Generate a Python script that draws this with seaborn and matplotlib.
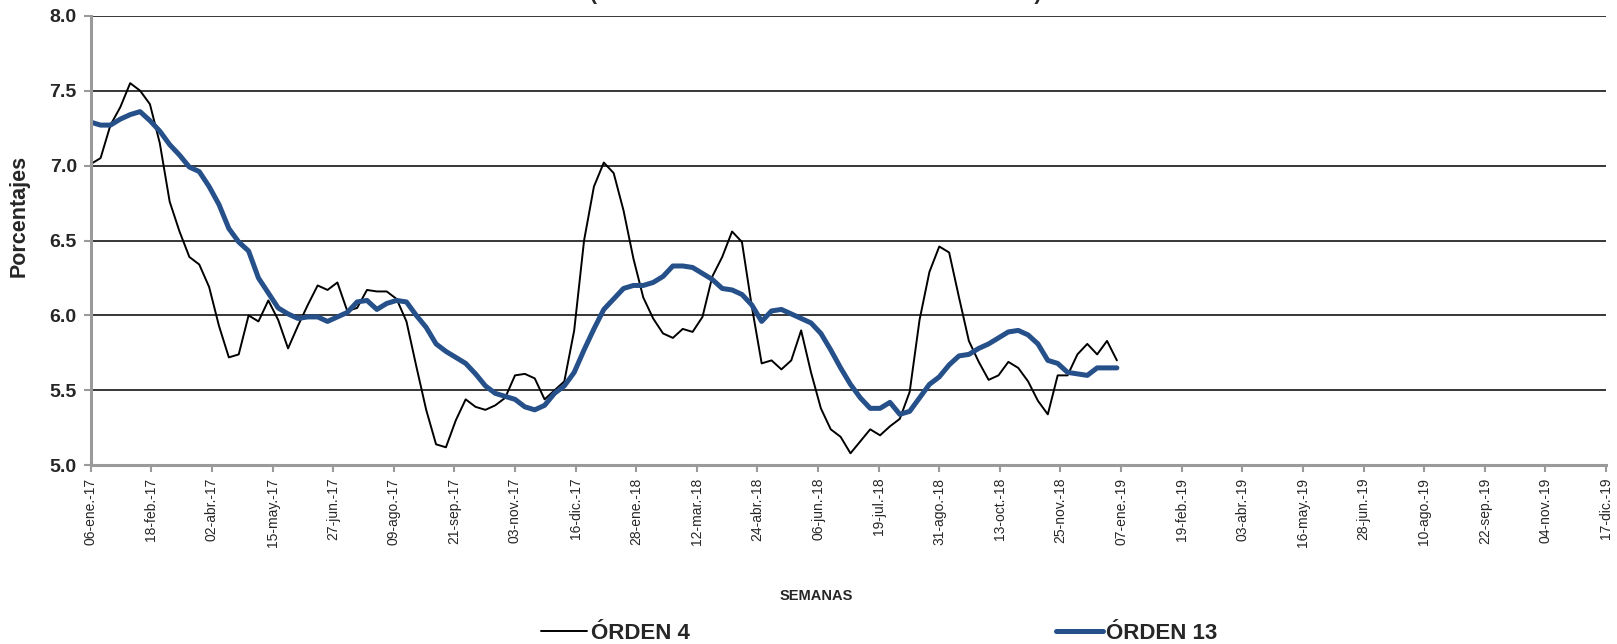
import numpy as np
import pandas as pd
import matplotlib
matplotlib.use("Agg")
import matplotlib.pyplot as plt
import seaborn as sns

# ---------------- data ----------------
start_date = "2017-01-06"
n_weeks = 105
orden4 = [7.01, 7.05, 7.27, 7.39, 7.55, 7.50, 7.41, 7.15, 6.76, 6.56,
          6.39, 6.34, 6.19, 5.93, 5.72, 5.74, 6.00, 5.96, 6.10, 5.97,
          5.78, 5.93, 6.07, 6.20, 6.17, 6.22, 6.03, 6.05, 6.17, 6.16,
          6.16, 6.11, 5.96, 5.66, 5.37, 5.14, 5.12, 5.30, 5.44, 5.39,
          5.37, 5.40, 5.45, 5.60, 5.61, 5.58, 5.44, 5.50, 5.56, 5.90,
          6.50, 6.86, 7.02, 6.95, 6.70, 6.38, 6.12, 5.98, 5.88, 5.85,
          5.91, 5.89, 5.99, 6.26, 6.39, 6.56, 6.49, 6.06, 5.68, 5.70,
          5.64, 5.70, 5.90, 5.62, 5.38, 5.24, 5.19, 5.08, 5.16, 5.24,
          5.20, 5.26, 5.31, 5.49, 5.97, 6.29, 6.46, 6.42, 6.12, 5.83,
          5.69, 5.57, 5.60, 5.69, 5.65, 5.56, 5.43, 5.34, 5.60, 5.60,
          5.74, 5.81, 5.74, 5.83, 5.70]
orden13 = [7.29, 7.27, 7.27, 7.31, 7.34, 7.36, 7.30, 7.23, 7.14, 7.07,
           6.99, 6.96, 6.86, 6.74, 6.58, 6.49, 6.43, 6.25, 6.15, 6.05,
           6.01, 5.98, 5.99, 5.99, 5.96, 5.99, 6.02, 6.09, 6.10, 6.04,
           6.08, 6.10, 6.09, 6.00, 5.92, 5.81, 5.76, 5.72, 5.68, 5.61,
           5.53, 5.48, 5.46, 5.44, 5.39, 5.37, 5.40, 5.48, 5.53, 5.62,
           5.77, 5.91, 6.04, 6.11, 6.18, 6.20, 6.20, 6.22, 6.26, 6.33,
           6.33, 6.32, 6.28, 6.24, 6.18, 6.17, 6.14, 6.07, 5.96, 6.03,
           6.04, 6.01, 5.98, 5.95, 5.88, 5.77, 5.65, 5.54, 5.45, 5.38,
           5.38, 5.42, 5.34, 5.36, 5.45, 5.54, 5.59, 5.67, 5.73, 5.74,
           5.78, 5.81, 5.85, 5.89, 5.90, 5.87, 5.81, 5.70, 5.68, 5.62,
           5.61, 5.60, 5.65, 5.65, 5.65]

tick_dates = ["2017-01-06", "2017-02-18", "2017-04-02", "2017-05-15", "2017-06-27",
              "2017-08-09", "2017-09-21", "2017-11-03", "2017-12-16", "2018-01-28",
              "2018-03-12", "2018-04-24", "2018-06-06", "2018-07-19", "2018-08-31",
              "2018-10-13", "2018-11-25", "2019-01-07", "2019-02-19", "2019-04-03",
              "2019-05-16", "2019-06-28", "2019-08-10", "2019-09-22", "2019-11-04",
              "2019-12-17"]
tick_labels = ["06-ene.-17", "18-feb.-17", "02-abr.-17", "15-may.-17", "27-jun.-17",
               "09-ago.-17", "21-sep.-17", "03-nov.-17", "16-dic.-17", "28-ene.-18",
               "12-mar.-18", "24-abr.-18", "06-jun.-18", "19-jul.-18", "31-ago.-18",
               "13-oct.-18", "25-nov.-18", "07-ene.-19", "19-feb.-19", "03-abr.-19",
               "16-may.-19", "28-jun.-19", "10-ago.-19", "22-sep.-19", "04-nov.-19",
               "17-dic.-19"]
y_ticks = [5.0, 5.5, 6.0, 6.5, 7.0, 7.5, 8.0]

series_names = ["ÓRDEN 4", "ÓRDEN 13"]
title_text = "(PROMEDIOS MÓVILES DE 4 Y 13 SEMANAS)"

# ---------------- figure ----------------
sns.set_style("white")
plt.rcParams["font.family"] = ["Liberation Sans", "DejaVu Sans"]

fig = plt.figure(figsize=(16.17, 6.44), dpi=100)
ax = fig.add_axes([0.0561, 0.2775, 0.9932 - 0.0561, 0.9756 - 0.2775])

dates = pd.date_range(start_date, periods=n_weeks, freq="7D")
df = pd.DataFrame({"fecha": dates, "o4": orden4, "o13": orden13})

blue = "#25508A"
sns.lineplot(data=df, x="fecha", y="o4", ax=ax, color="black", linewidth=1.4,
             label=series_names[0])
sns.lineplot(data=df, x="fecha", y="o13", ax=ax, color=blue, linewidth=3.6,
             label=series_names[1])

ax.set_ylim(5.0, 8.0)
ax.set_yticks(y_ticks)
ax.set_yticklabels([f"{v:.1f}" for v in y_ticks], fontsize=14, fontweight="bold")
ax.yaxis.grid(True, color="black", linewidth=1.1)
ax.set_axisbelow(True)

tdates = pd.to_datetime(tick_dates)
ax.set_xlim(tdates[0], tdates[-1])
ax.set_xticks(tdates)
ax.set_xticklabels(tick_labels, rotation=90, fontsize=10)

for side in ["top", "right"]:
    ax.spines[side].set_visible(False)
for side in ["left", "bottom"]:
    ax.spines[side].set_color("#9a9a9a")
    ax.spines[side].set_linewidth(2.2)
ax.tick_params(axis="both", which="major", length=5, width=1.5, color="#9a9a9a",
               direction="out", left=True, bottom=True)
ax.tick_params(axis="y", pad=5)
ax.tick_params(axis="x", pad=4)

ax.set_ylabel("Porcentajes", fontsize=15.5, fontweight="bold")
ax.yaxis.set_label_coords(-0.04, 0.555)
ax.set_xlabel("SEMANAS", fontsize=10.5, fontweight="bold")
ax.xaxis.set_label_coords(0.479, -0.275)

ax.legend().remove()
handles, labels = ax.get_legend_handles_labels()
leg = fig.legend(handles, labels, loc="center", bbox_to_anchor=(0.5436, 0.017),
                 ncol=2, frameon=False, handlelength=2.1, handletextpad=0.15,
                 columnspacing=16.5, prop={"weight": "bold", "size": 16})

fig.text(0.5045, 1.0 + 0.5 / 644, title_text, ha="center", va="baseline",
         fontsize=15, fontweight="bold")

fig.savefig("out.png", dpi=100)
